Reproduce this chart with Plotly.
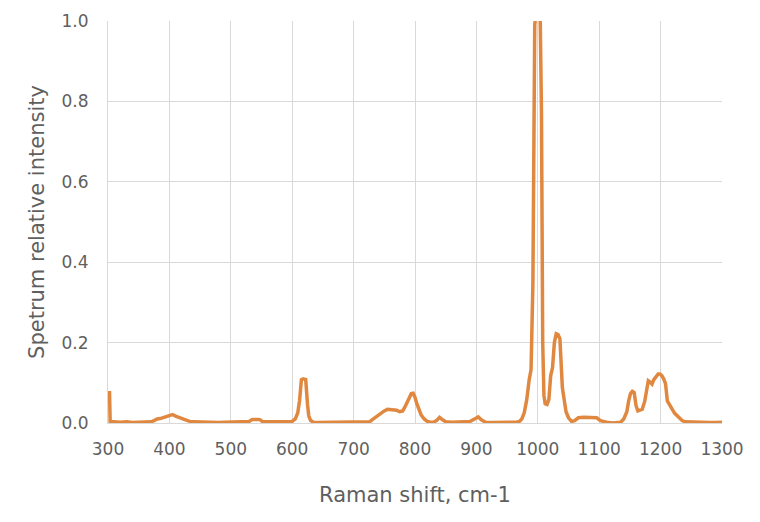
import plotly.graph_objects as go

raman_shift = [
    300, 302.5, 303.5, 310, 320, 330, 340, 350, 360, 370,
    375, 380, 385, 390, 395, 400, 405, 410, 415, 420,
    425, 430, 435, 440, 450, 460, 470, 480, 490, 500,
    510, 520, 530, 535, 540, 545, 548, 552, 560, 570,
    580, 590, 600, 605, 609, 612, 615, 618, 622, 625,
    627, 630, 635, 640, 650, 660, 670, 680, 690, 700,
    710, 720, 726, 730, 735, 740, 745, 750, 755, 760,
    765, 770, 775, 780, 783, 787, 790, 794, 797, 800,
    803, 806, 810, 815, 820, 825, 830, 835, 840, 845,
    850, 860, 870, 880, 890, 897, 903, 908, 915, 925,
    935, 945, 955, 965, 970, 974, 978, 982, 986, 989,
    992, 995, 997, 1000, 1002, 1004, 1006, 1008, 1010, 1012,
    1015, 1018, 1021, 1024, 1027, 1030, 1033, 1036, 1038, 1040,
    1043, 1046, 1050, 1055, 1060, 1066, 1075, 1085, 1096, 1102,
    1108, 1115, 1122, 1129, 1135, 1140, 1145, 1148, 1151, 1154,
    1157, 1160, 1163, 1166, 1170, 1174, 1177, 1180, 1183, 1186,
    1189, 1192, 1196, 1199, 1202, 1205, 1208, 1211, 1215, 1219,
    1223, 1227, 1231, 1235, 1240, 1250, 1260, 1270, 1280, 1290,
    1300,
]

intensity = [
    0.075, 0.075, 0.004, 0.003, 0.002, 0.003, 0.001, 0.002, 0.003, 0.003,
    0.006, 0.010, 0.011, 0.014, 0.016, 0.018, 0.021, 0.017, 0.014, 0.010,
    0.008, 0.005, 0.003, 0.003, 0.002, 0.001, 0.001, 0.001, 0.002, 0.002,
    0.002, 0.003, 0.004, 0.009, 0.010, 0.009, 0.008, 0.003, 0.003, 0.002,
    0.003, 0.003, 0.004, 0.010, 0.025, 0.056, 0.108, 0.110, 0.108, 0.045,
    0.018, 0.006, 0.002, 0.001, 0.001, 0.001, 0.002, 0.002, 0.001, 0.002,
    0.001, 0.002, 0.003, 0.008, 0.014, 0.020, 0.024, 0.030, 0.034, 0.034,
    0.033, 0.032, 0.028, 0.030, 0.038, 0.050, 0.060, 0.073, 0.074, 0.064,
    0.048, 0.034, 0.020, 0.010, 0.004, 0.002, 0.002, 0.006, 0.014, 0.008,
    0.003, 0.002, 0.002, 0.002, 0.004, 0.010, 0.015, 0.008, 0.002, 0.001,
    0.001, 0.001, 0.002, 0.002, 0.004, 0.010, 0.026, 0.058, 0.108, 0.133,
    0.345, 0.990, 1.020, 1.020, 1.020, 1.000, 0.770, 0.200, 0.068, 0.048,
    0.046, 0.058, 0.118, 0.138, 0.200, 0.222, 0.220, 0.210, 0.138, 0.088,
    0.058, 0.028, 0.013, 0.004, 0.006, 0.013, 0.014, 0.013, 0.013, 0.006,
    0.003, 0.001, 0.000, 0.000, 0.002, 0.010, 0.028, 0.055, 0.073, 0.079,
    0.076, 0.043, 0.030, 0.032, 0.034, 0.053, 0.083, 0.105, 0.102, 0.097,
    0.108, 0.113, 0.122, 0.122, 0.118, 0.110, 0.098, 0.055, 0.043, 0.034,
    0.024, 0.017, 0.010, 0.006, 0.003, 0.002, 0.001, 0.001, 0.001, 0.001,
    0.002,
]

x_ticks = [300, 400, 500, 600, 700, 800, 900, 1000, 1100, 1200, 1300]
y_ticks = [0.0, 0.2, 0.4, 0.6, 0.8, 1.0]

font_family = "DejaVu Sans, sans-serif"
text_color = "#5f5f5f"
grid_color = "#D9D9D9"

fig = go.Figure()
fig.add_trace(go.Scatter(
    x=raman_shift,
    y=intensity,
    mode="lines",
    line=dict(color="#E08840", width=3.5),
    showlegend=False,
    hoverinfo="x+y",
))

fig.update_layout(
    width=760,
    height=522,
    margin=dict(l=100, r=46, t=13, b=107, autoexpand=False),
    paper_bgcolor="white",
    plot_bgcolor="white",
    font=dict(family=font_family, color=text_color, size=17),
)

fig.update_xaxes(
    range=[300, 1300],
    tickvals=x_ticks,
    ticktext=[str(v) for v in x_ticks],
    showgrid=True,
    gridcolor=grid_color,
    gridwidth=1,
    showline=True,
    linecolor=grid_color,
    linewidth=1,
    zeroline=False,
    ticks="",
    automargin=False,
    ticklabelstandoff=11,
    tickfont=dict(size=17, color=text_color),
    title=dict(text="Raman shift, cm-1", font=dict(size=21, color=text_color), standoff=28),
)

fig.update_yaxes(
    range=[0, 1],
    tickvals=y_ticks,
    ticktext=["%.1f" % v for v in y_ticks],
    showgrid=True,
    gridcolor=grid_color,
    gridwidth=1,
    showline=True,
    linecolor=grid_color,
    linewidth=1,
    zeroline=False,
    ticks="",
    automargin=False,
    ticklabelstandoff=15,
    tickfont=dict(size=17, color=text_color),
    title=dict(text="Spetrum relative intensity", font=dict(size=21, color=text_color), standoff=11),
)

fig.write_html("out.html")
